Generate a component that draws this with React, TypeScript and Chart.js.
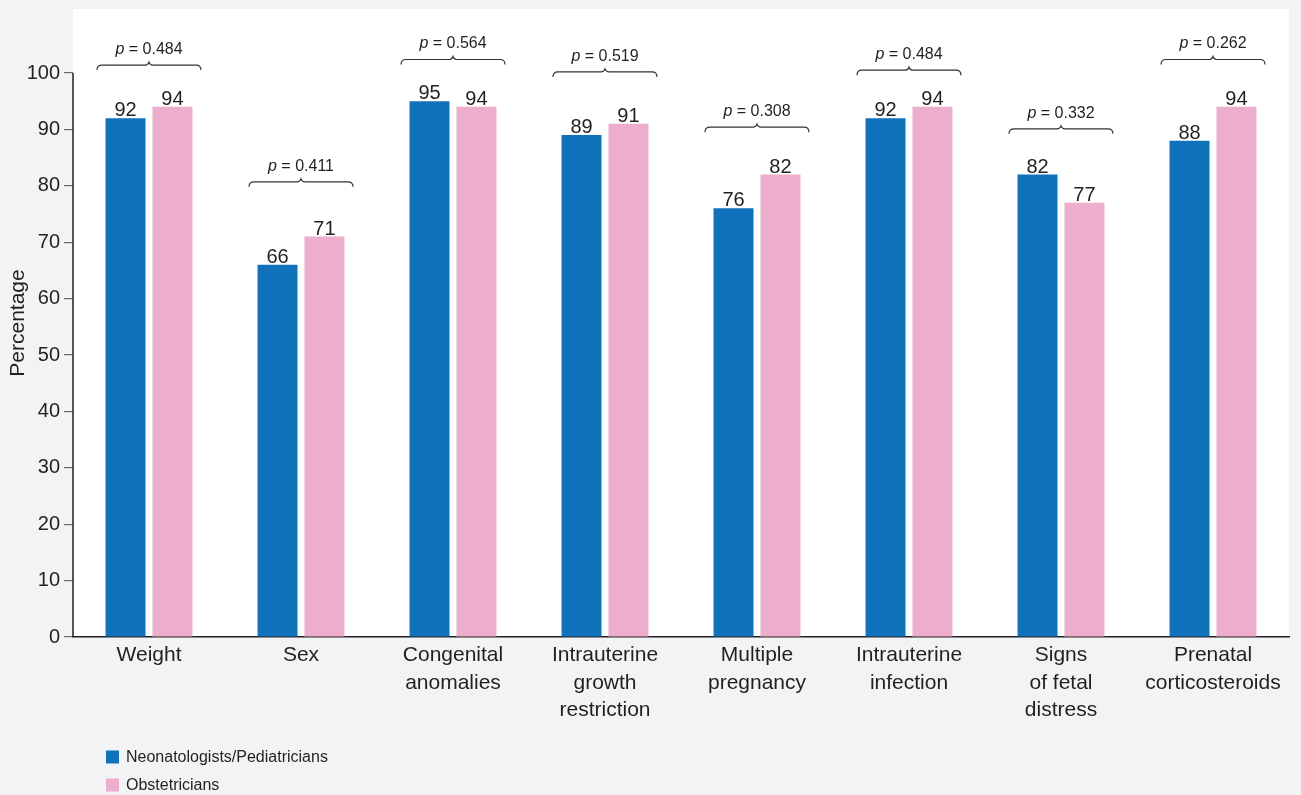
import React, { useEffect, useRef } from 'react';
import { Chart, registerables } from 'chart.js';

Chart.register(...registerables);

const categories: string[][] = [
  ['Weight'],
  ['Sex'],
  ['Congenital', 'anomalies'],
  ['Intrauterine', 'growth', 'restriction'],
  ['Multiple', 'pregnancy'],
  ['Intrauterine', 'infection'],
  ['Signs', 'of fetal', 'distress'],
  ['Prenatal', 'corticosteroids'],
];
const neonatologists = [92, 66, 95, 89, 76, 92, 82, 88];
const obstetricians = [94, 71, 94, 91, 82, 94, 77, 94];
const pValues = ['0.484', '0.411', '0.564', '0.519', '0.308', '0.484', '0.332', '0.262'];
const bracketLevels = [101.4, 80.7, 102.4, 100.2, 90.4, 100.5, 90.1, 102.4];
const yTicks = [0, 10, 20, 30, 40, 50, 60, 70, 80, 90, 100];

const FONT = '"Liberation Sans", Arial, Helvetica, sans-serif';
const TEXT = '#231f20';
const BLUE = '#1072ba';
const PINK = '#ecaecc';

const bgPlugin = {
  id: 'plotBg',
  beforeDraw(chart: any) {
    const { ctx, chartArea } = chart;
    ctx.save();
    ctx.fillStyle = '#ffffff';
    ctx.fillRect(chartArea.left, chartArea.top, chartArea.right - chartArea.left, chartArea.bottom - chartArea.top);
    ctx.restore();
  },
};

const axisPlugin = {
  id: 'yAxisLine',
  afterDraw(chart: any) {
    const { ctx, chartArea } = chart;
    const y = chart.scales.y;
    ctx.save();
    ctx.strokeStyle = TEXT;
    ctx.lineWidth = 1.5;
    ctx.beginPath();
    ctx.moveTo(chartArea.left, y.getPixelForValue(yTicks[yTicks.length - 1]));
    ctx.lineTo(chartArea.left, y.getPixelForValue(0));
    ctx.stroke();
    ctx.restore();
  },
};

const valueLabelPlugin = {
  id: 'valueLabels',
  afterDatasetsDraw(chart: any) {
    const { ctx } = chart;
    ctx.save();
    ctx.font = `20px ${FONT}`;
    ctx.fillStyle = TEXT;
    ctx.textAlign = 'center';
    ctx.textBaseline = 'alphabetic';
    chart.data.datasets.forEach((ds: any, di: number) => {
      const meta = chart.getDatasetMeta(di);
      meta.data.forEach((bar: any, i: number) => {
        ctx.fillText(String(ds.data[i]), bar.x, bar.y - 2);
      });
    });
    ctx.restore();
  },
};

const bracketPlugin = {
  id: 'brackets',
  afterDatasetsDraw(chart: any) {
    const { ctx } = chart;
    const xs = chart.scales.x;
    const ys = chart.scales.y;
    const hw = 52;
    ctx.save();
    categories.forEach((_c, i) => {
      const cx = xs.getPixelForValue(i);
      const y = ys.getPixelForValue(bracketLevels[i]);
      ctx.strokeStyle = '#333333';
      ctx.lineWidth = 1.2;
      ctx.beginPath();
      ctx.moveTo(cx - hw, y + 5);
      ctx.quadraticCurveTo(cx - hw, y, cx - hw + 5, y);
      ctx.lineTo(cx - 4, y);
      ctx.quadraticCurveTo(cx - 1, y, cx, y - 3);
      ctx.quadraticCurveTo(cx + 1, y, cx + 4, y);
      ctx.lineTo(cx + hw - 5, y);
      ctx.quadraticCurveTo(cx + hw, y, cx + hw, y + 5);
      ctx.stroke();

      const pPart = 'p';
      const rest = ' = ' + pValues[i];
      ctx.font = `italic 16px ${FONT}`;
      const w1 = ctx.measureText(pPart).width;
      ctx.font = `16px ${FONT}`;
      const w2 = ctx.measureText(rest).width;
      const x0 = cx - (w1 + w2) / 2;
      ctx.fillStyle = TEXT;
      ctx.textAlign = 'left';
      ctx.textBaseline = 'alphabetic';
      ctx.font = `italic 16px ${FONT}`;
      ctx.fillText(pPart, x0, y - 11);
      ctx.font = `16px ${FONT}`;
      ctx.fillText(rest, x0 + w1, y - 11);
    });
    ctx.restore();
  },
};

const legendPlugin = {
  id: 'customLegend',
  afterDraw(chart: any) {
    const { ctx, chartArea } = chart;
    const x0 = chartArea.left + 33;
    const rows = [757, 785];
    ctx.save();
    ctx.font = `16px ${FONT}`;
    ctx.textAlign = 'left';
    ctx.textBaseline = 'middle';
    chart.data.datasets.forEach((ds: any, i: number) => {
      const cy = rows[i];
      ctx.fillStyle = ds.backgroundColor;
      ctx.fillRect(x0, cy - 6.5, 13, 13);
      ctx.fillStyle = TEXT;
      ctx.fillText(ds.label, x0 + 20, cy + 1);
    });
    ctx.restore();
  },
};

export default function App() {
  const ref = useRef<HTMLCanvasElement | null>(null);

  useEffect(() => {
    if (!ref.current) return;
    Chart.defaults.font.family = FONT;
    const chart = new Chart(ref.current, {
      type: 'bar',
      data: {
        labels: categories,
        datasets: [
          {
            label: 'Neonatologists/Pediatricians',
            data: neonatologists,
            backgroundColor: BLUE,
            categoryPercentage: 0.618,
            barPercentage: 0.851,
          },
          {
            label: 'Obstetricians',
            data: obstetricians,
            backgroundColor: PINK,
            categoryPercentage: 0.618,
            barPercentage: 0.851,
          },
        ],
      },
      options: {
        animation: false,
        responsive: true,
        maintainAspectRatio: false,
        layout: { padding: { top: 9, right: 12, left: 0, bottom: 0 } },
        plugins: {
          legend: { display: false },
          tooltip: { enabled: false },
          title: { display: false },
        },
        scales: {
          x: {
            grid: { display: false, drawTicks: false },
            border: { display: true, color: TEXT, width: 1.5 },
            ticks: {
              color: TEXT,
              padding: 5,
              font: { size: 21, lineHeight: 1.3, family: FONT },
              maxRotation: 0,
              autoSkip: false,
            },
            afterFit(scale: any) {
              scale.height = 158;
              scale.paddingLeft = 0;
              scale.paddingRight = 0;
            },
          },
          y: {
            min: 0,
            max: 111.35,
            grid: { display: true, drawOnChartArea: false, drawTicks: true, tickLength: 9, color: '#666666', lineWidth: 1.2 },
            border: { display: false },
            ticks: {
              color: TEXT,
              padding: 4,
              font: { size: 20, family: FONT },
            },
            afterBuildTicks(scale: any) {
              scale.ticks = yTicks.map((v) => ({ value: v }));
            },
            title: {
              display: true,
              text: 'Percentage',
              color: TEXT,
              font: { size: 21, family: FONT },
              padding: { top: 6, bottom: 0 },
            },
            afterFit(scale: any) {
              scale.width = 73;
              scale.paddingTop = 0;
              scale.paddingBottom = 0;
            },
          },
        },
      },
      plugins: [bgPlugin, axisPlugin, valueLabelPlugin, bracketPlugin, legendPlugin],
    } as any);
    return () => chart.destroy();
  }, []);

  return (
    <div style={{ position: 'fixed', left: 0, top: 0, width: 1301, height: 795, background: '#f2f3f5' }}>
      <canvas ref={ref} />
    </div>
  );
}
